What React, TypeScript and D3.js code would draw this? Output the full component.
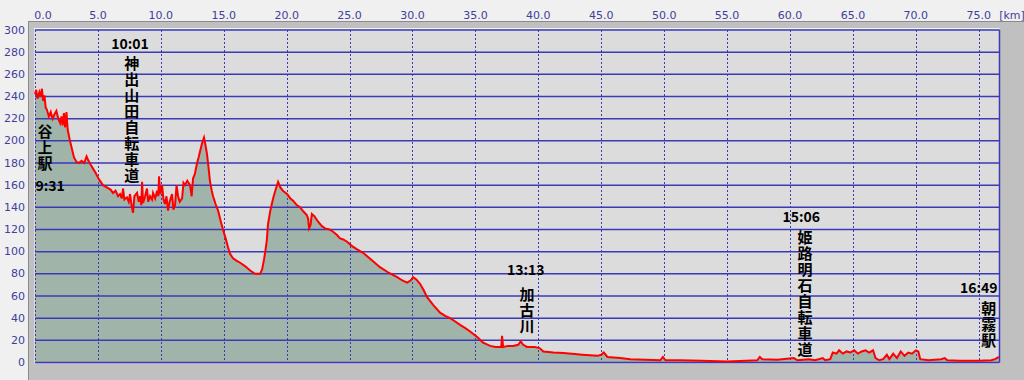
import React from "react";
import * as d3 from "d3";

// distance [km] and elevation [m]
const distances = [
  0, 0.1, 0.2, 0.35, 0.45, 0.55, 0.65, 0.75, 0.85, 0.95, 1.1, 1.25, 1.4, 1.55, 1.7, 1.85, 2.0, 2.1, 2.2, 2.3,
  2.4, 2.5, 2.6, 2.78, 2.95, 3.1, 3.3, 3.5, 3.7, 3.9, 4.1, 4.25, 4.45, 4.77, 5.1, 5.4, 5.7, 6.0, 6.2, 6.4,
  6.6, 6.76, 6.9, 7.0, 7.1, 7.31, 7.45, 7.55, 7.7, 7.79, 7.9, 8.11, 8.25, 8.35, 8.45, 8.51, 8.59, 8.75, 8.9, 9.0,
  9.14, 9.3, 9.38, 9.55, 9.7, 9.8, 9.86, 9.95, 10.1, 10.2, 10.33, 10.45, 10.57, 10.7, 10.89, 11.0, 11.13, 11.25, 11.37, 11.5,
  11.69, 11.8, 11.92, 12.1, 12.32, 12.45, 12.56, 12.7, 12.88, 13.0, 13.15, 13.28, 13.43, 13.55, 13.67, 13.8, 13.91, 14.05, 14.15, 14.35,
  14.55, 14.75, 14.94, 15.15, 15.34, 15.5, 15.74, 16.0, 16.3, 16.69, 17.1, 17.49, 17.89, 18.05, 18.2, 18.3, 18.42, 18.52, 18.7, 18.92,
  19.15, 19.32, 19.5, 19.7, 20.03, 20.3, 20.51, 20.8, 21.07, 21.35, 21.6, 21.7, 21.78, 21.9, 22.0, 22.2, 22.5, 22.8, 23.05, 23.4,
  23.69, 24.0, 24.24, 24.5, 24.8, 25.2, 25.6, 26.07, 26.7, 27.42, 28.1, 28.78, 29.2, 29.57, 29.85, 30.05, 30.3, 30.6, 30.9, 31.16,
  31.64, 32.19, 32.6, 32.99, 33.4, 33.78, 34.2, 34.58, 35.14, 35.61, 36.17, 36.6, 37.05, 37.12, 37.2, 37.6, 38.0, 38.4, 38.6, 38.8,
  39.1, 39.7, 40.1, 40.4, 41.2, 42.0, 43.5, 44.7, 45.0, 45.2, 45.5, 46.5, 47.3, 48.5, 49.7, 49.9, 50.1, 51.3, 53.0, 55.0,
  56.5, 57.4, 57.6, 57.8, 59.0, 60.3, 60.6, 61.5, 62.0, 62.6, 62.8, 63.2, 63.4, 63.7, 63.9, 64.2, 64.5, 64.8, 65.1, 65.4,
  65.7, 66.0, 66.3, 66.6, 66.8, 67.1, 67.4, 67.7, 67.9, 68.2, 68.5, 68.8, 69.1, 69.4, 69.7, 70.0, 70.2, 70.35, 71.0, 72.0,
  72.3, 72.5, 73.5, 75.0, 76.0, 76.3, 76.6,
];
const elevations = [
  242, 246, 238, 244, 240, 247, 236, 241, 230, 228, 222, 226, 220, 224, 227, 220, 216, 222, 214, 225,
  212, 226, 210, 200, 192, 185, 181, 180, 182, 180, 186, 182, 178, 172, 165, 160, 158, 156, 153, 155,
  150, 152, 148, 157, 147, 149, 145, 152, 140, 135, 150, 153, 145, 150, 142, 163, 144, 150, 157, 145,
  150, 147, 153, 148, 155, 150, 168, 152, 160, 148, 143, 150, 137, 145, 152, 138, 142, 160, 150, 145,
  148, 162, 160, 164, 160, 150, 166, 170, 180, 185, 192, 198, 203, 196, 188, 175, 163, 155, 150, 143,
  137, 128, 120, 112, 104, 98, 94, 92, 90, 87, 83, 80, 80, 84, 93, 100, 110, 125, 137, 148,
  157, 163, 158, 155, 152, 148, 146, 142, 140, 136, 133, 130, 121, 124, 134, 132, 127, 123, 121, 120,
  118, 115, 112, 111, 109, 105, 102, 99, 93, 86, 81, 77, 74, 72, 74, 77, 75, 71, 65, 59,
  52, 45, 42, 40, 37, 34, 31, 28, 23, 18, 15, 14, 14, 24, 14, 15, 15, 16, 19, 16,
  14, 14, 13, 10, 9, 8.5, 7, 6, 7, 9, 5, 4, 3, 2.5, 2, 5, 2, 2, 1.5, 1,
  1.5, 2, 5, 3, 2.5, 4, 2, 3, 2, 4, 2, 3, 9, 8, 11, 8, 10, 9, 11, 8,
  10, 11, 9, 11, 4, 2, 3, 7, 3, 8, 4, 10, 6, 9, 8, 11, 10, 3, 2, 3,
  4, 2, 1.5, 1.5, 2, 3, 5,
];

const xTicks = [0, 5, 10, 15, 20, 25, 30, 35, 40, 45, 50, 55, 60, 65, 70, 75];
const yTicks = [0, 20, 40, 60, 80, 100, 120, 140, 160, 180, 200, 220, 240, 260, 280, 300];

// annotations: time + place name (vertical), anchored in data units
const noteTimes = ["9:31", "10:01", "13:13", "15:06", "16:49"];
const noteNames = ["谷上駅", "神出山田自転車道", "加古川", "姫路明石自転車道", "朝霧駅"];
const noteTimeKm = [1.2, 7.55, 39.0, 60.9, 75.0];
const noteTimeElev = [160.2, 288.3, 84.4, 132.2, 68.1];
const noteNameKm = [0.79, 7.69, 39.1, 61.2, 75.8];
const noteNameElev = [208.8, 270.3, 61.8, 113.3, 49.2];

const W = 1024;
const H = 380;
const left = 35;
const right = 999.5;
const top = 30;
const bottom = 362.5;

export default function App() {
  const x = d3.scaleLinear().domain([0, 76.65]).range([left, right]);
  const y = d3.scaleLinear().domain([0, 300]).range([bottom, top]);
  const pts: [number, number][] = distances.map((d, i) => [d, elevations[i]]);
  const area = d3
    .area<[number, number]>()
    .x((d) => x(d[0]))
    .y0(y(0))
    .y1((d) => y(d[1]));
  const line = d3
    .line<[number, number]>()
    .x((d) => x(d[0]))
    .y((d) => y(d[1]));

  const blue = "#3a3ab8";
  const labelBlue = "#40409c";
  const font = "'Noto Sans CJK JP', 'Noto Sans', sans-serif";
  const axisFont = "'DejaVu Sans', 'Noto Sans', sans-serif";
  const nameSize = 15;

  return (
    <svg
      width={W}
      height={H}
      style={{ position: "absolute", left: 0, top: 0, display: "block" }}
    >
      <rect x={0} y={0} width={W} height={H} fill="#f0f0f0" />
      {/* frame */}
      <rect x={28} y={21} width={W} height={H} fill="#c0c0c0" />
      <line x1={28.5} y1={21} x2={28.5} y2={H} stroke="#8a8a8a" />
      <line x1={28} y1={21.5} x2={W} y2={21.5} stroke="#8a8a8a" />
      {/* plot bg */}
      <rect x={left - 1} y={top - 1} width={right - left + 1} height={bottom - top + 2} fill="#dcdcdc" />
      <line x1={left - 1} y1={top - 1.5} x2={right} y2={top - 1.5} stroke="#f4f4f4" />
      <path d={area(pts) || ""} fill="#a0b4a9" />
      {/* vertical dotted grid */}
      {xTicks.map((t) => (
        <line
          key={"vx" + t}
          x1={Math.round(x(t)) + 0.5}
          x2={Math.round(x(t)) + 0.5}
          y1={top}
          y2={bottom}
          stroke={blue}
          strokeWidth={1}
          strokeDasharray="2,2"
        />
      ))}
      {/* horizontal grid */}
      {yTicks.map((t) => (
        <line
          key={"hy" + t}
          x1={left}
          x2={right}
          y1={y(t)}
          y2={y(t)}
          stroke={blue}
          strokeWidth={1.5}
        />
      ))}
      <line x1={right} x2={right} y1={top} y2={bottom} stroke={blue} strokeWidth={1.5} />
      <path d={line(pts) || ""} fill="none" stroke="#ff0000" strokeWidth={2} strokeLinejoin="miter" />
      {/* y axis labels */}
      {yTicks.map((t) => (
        <text
          key={"yl" + t}
          x={25}
          y={y(t)}
          textAnchor="end"
          dominantBaseline="central"
          fontFamily={axisFont}
          fontSize={11}
          fill={labelBlue}
        >
          {t}
        </text>
      ))}
      {/* x axis labels */}
      {xTicks.map((t) => (
        <text
          key={"xl" + t}
          x={t === 0 ? x(t) + 8 : x(t)}
          y={15}
          textAnchor="middle"
          dominantBaseline="central"
          fontFamily={axisFont}
          fontSize={11}
          fill={labelBlue}
        >
          {t.toFixed(1)}
        </text>
      ))}
      <text
        x={1012}
        y={15}
        textAnchor="middle"
        dominantBaseline="central"
        fontFamily={axisFont}
        fontSize={11}
        fill={labelBlue}
      >
        [km]
      </text>
      {/* annotations */}
      {noteTimes.map((tm, i) => (
        <g key={"n" + i} fontFamily={font} fontWeight="bold" fill="#000">
          <text
            x={x(noteTimeKm[i])}
            y={y(noteTimeElev[i])}
            textAnchor="middle"
            dominantBaseline="central"
            fontSize={14}
          >
            {tm}
          </text>
          <text
            x={x(noteNameKm[i])}
            y={y(noteNameElev[i]) - nameSize / 2}
            textAnchor="start"
            fontSize={nameSize}
            letterSpacing={1}
            style={{ writingMode: "vertical-rl" }}
          >
            {noteNames[i]}
          </text>
        </g>
      ))}
    </svg>
  );
}
